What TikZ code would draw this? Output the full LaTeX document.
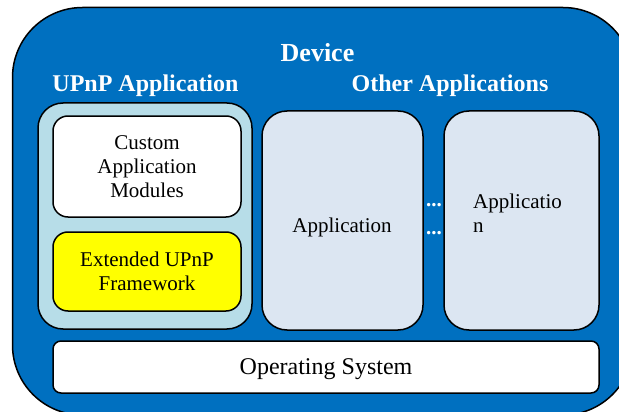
\documentclass[tikz,border=0pt]{standalone}
\usepackage{fontspec}
\setmainfont{Liberation Serif}
\definecolor{devblue}{HTML}{0070C0}
\definecolor{upnpbox}{HTML}{B7DDE8}
\definecolor{appbox}{HTML}{DCE6F2}
\definecolor{fwyellow}{HTML}{FFFF00}
\begin{document}
\begin{tikzpicture}[x=1pt,y=-1pt,
  box/.style={draw=black, line width=1.5pt, inner sep=0pt, rectangle},
  body/.style={font=\fontsize{21}{24}\selectfont, text=black},
  heading/.style={font=\fontsize{24}{28}\selectfont\bfseries, text=white, anchor=base},
  dots/.style={font=\fontsize{21}{24}\selectfont\bfseries, text=white, anchor=base, inner sep=0pt}
]
\useasboundingbox (0,0) rectangle (619,412);
\begin{scope}
\clip (0,0) rectangle (619,412);
\node[box, fill=devblue, rounded corners=70pt, minimum width=620.5pt, minimum height=407.5pt] (device) at (322.75,211.25) {};
\end{scope}
\node[heading, font=\fontsize{26}{30}\selectfont\bfseries] (devtitle) at (317.5,62) {Device};
\node[heading] (upnptitle) at (145.5,92) {UPnP Application};
\node[heading] (othertitle) at (450,92) {Other Applications};
% UPnP application container
\node[box, fill=upnpbox, rounded corners=25pt, minimum width=214pt, minimum height=226pt] (upnp) at (145,216) {};
\node[box, fill=white, rounded corners=15pt, minimum width=188pt, minimum height=101pt, body, align=center] (custom) at (147,166.5) {Custom\\Application\\Modules};
\node[box, fill=fwyellow, rounded corners=15pt, minimum width=188pt, minimum height=79pt, body, align=center] (ext) at (147,271.5) {Extended UPnP\\Framework};
% other applications
\node[box, fill=appbox, rounded corners=25pt, minimum width=161pt, minimum height=219pt] (app1) at (342.5,220.5) {};
\node[box, fill=appbox, rounded corners=25pt, minimum width=155pt, minimum height=219pt] (app2) at (521.5,220.5) {};
\node[body, anchor=base, inner sep=0pt] (app1text) at (342,232) {Application};
\node[body, anchor=base west, inner sep=0pt, align=left] (app2text) at (473,232) {Applicatio\\n};
\node[dots] (dotsa) at (434,206) {...};
\node[dots] (dotsb) at (434,234) {...};
% operating system
\node[box, fill=white, rounded corners=8pt, minimum width=546pt, minimum height=52pt, body, font=\fontsize{24}{28}\selectfont, text depth=0pt] (os) at (326,367) {Operating System};
\end{tikzpicture}
\end{document}
